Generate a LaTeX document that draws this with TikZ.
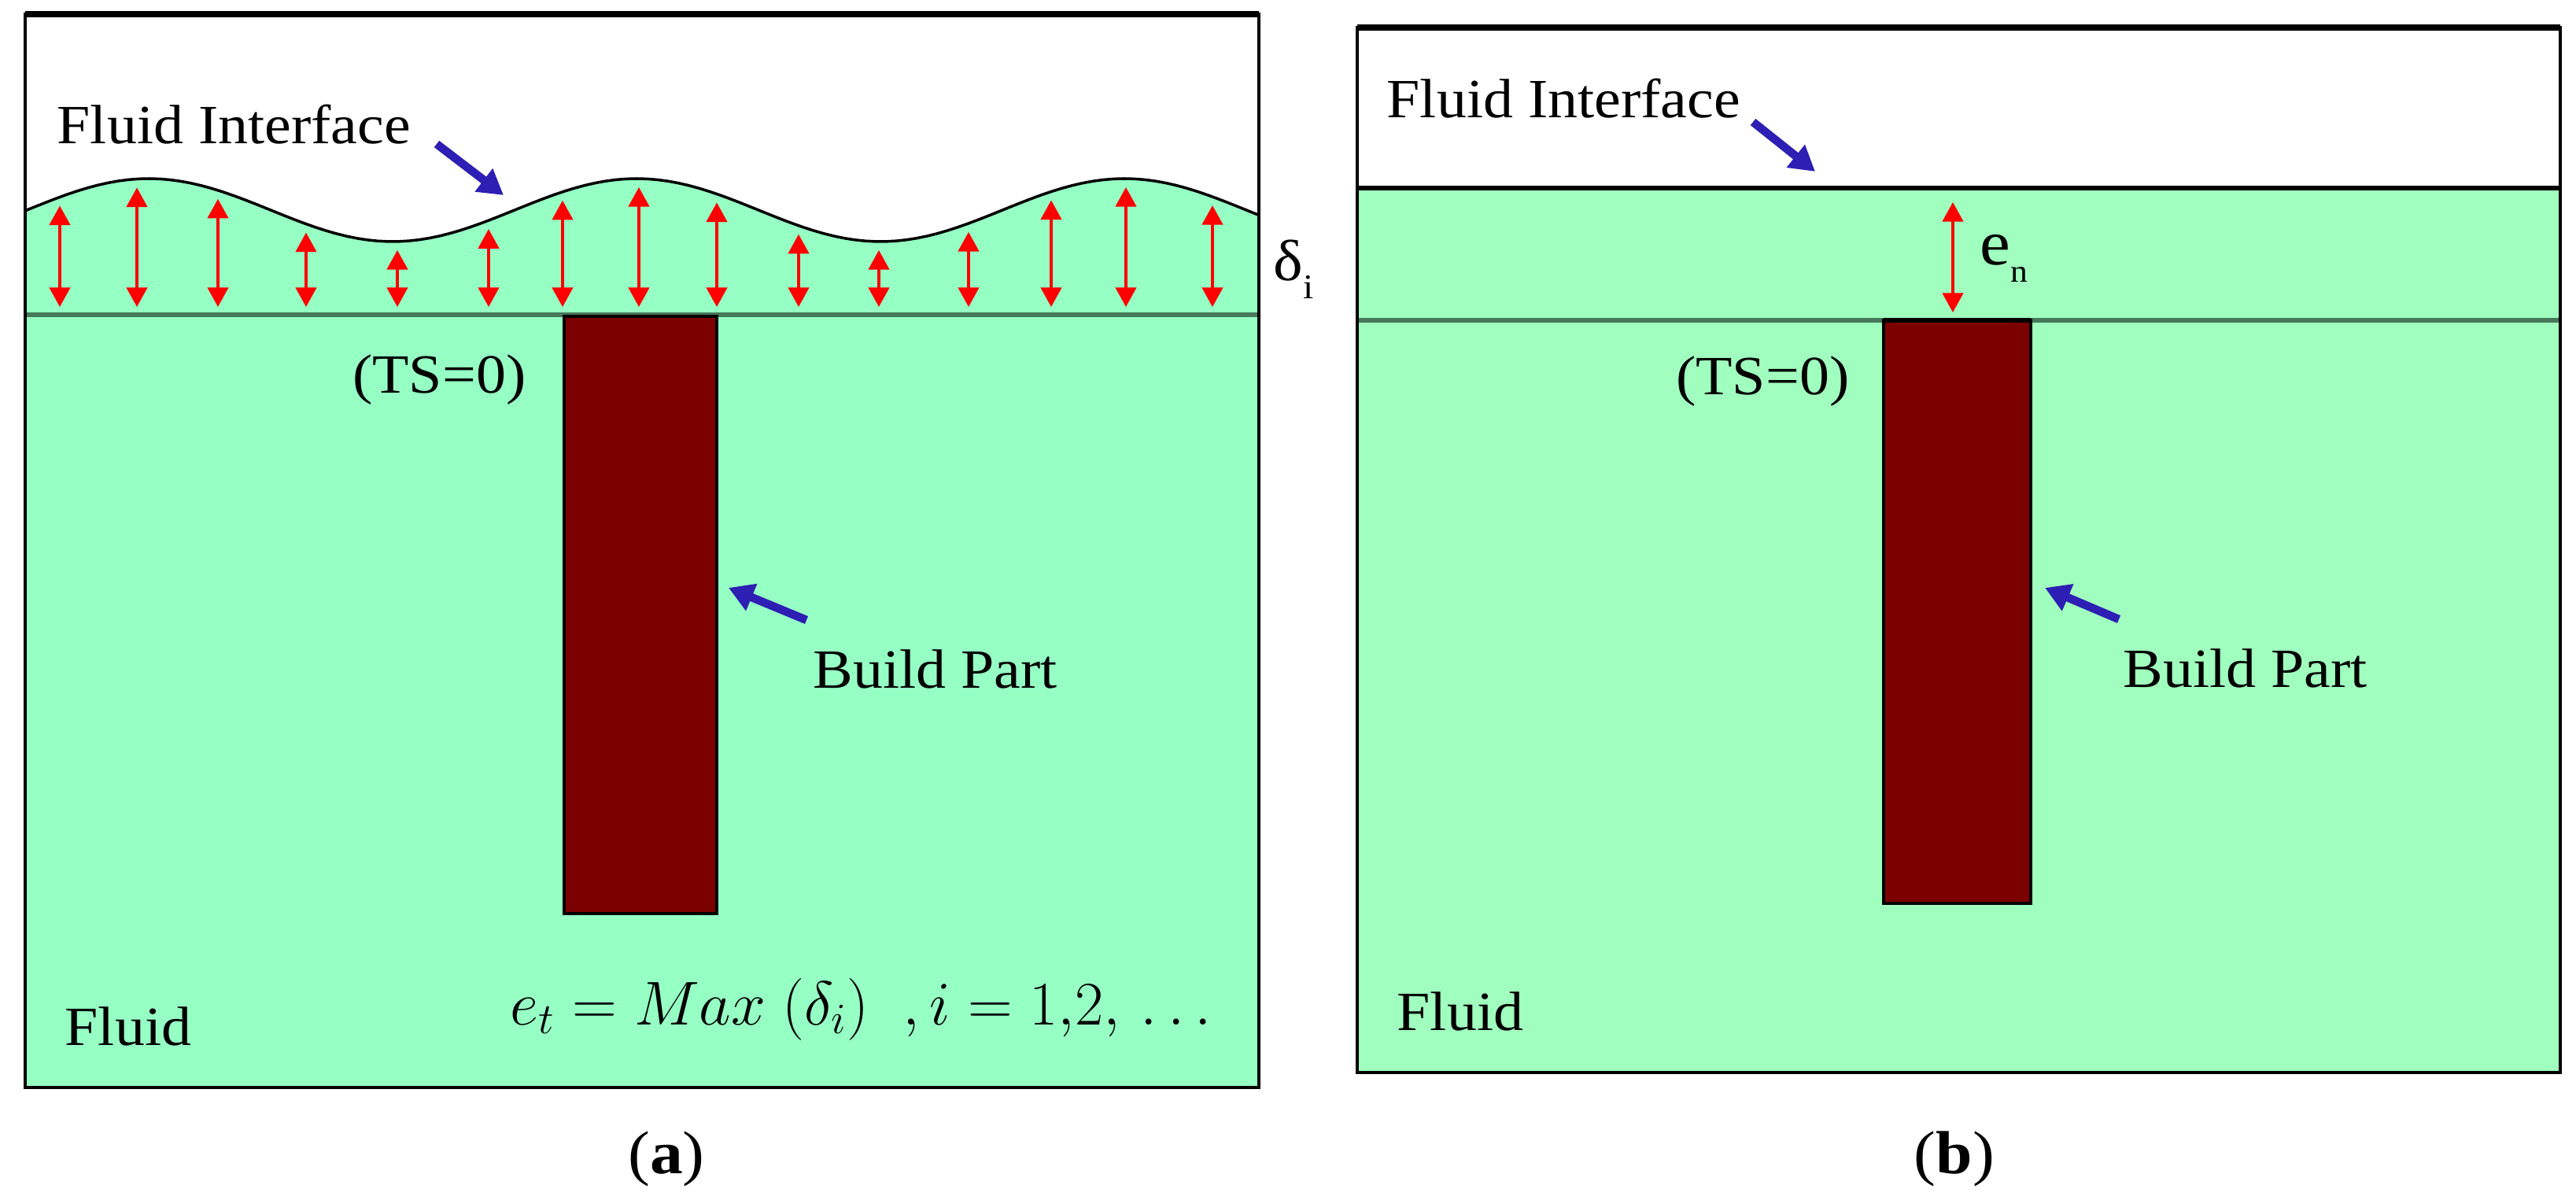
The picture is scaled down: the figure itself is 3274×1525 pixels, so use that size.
\RequirePackage{fix-cm}
\documentclass[tikz,border=0pt]{standalone}
\usepackage{fontspec}
\setmainfont{Liberation Serif}[FakeStretch=1.08]
\usetikzlibrary{arrows.meta}
\definecolor{fluidA}{RGB}{150,255,196}
\definecolor{fluidB}{RGB}{160,255,190}
\definecolor{partred}{RGB}{123,0,0}
\definecolor{pointblue}{RGB}{45,30,180}
\definecolor{layerline}{RGB}{70,120,90}

\begin{document}
\begin{tikzpicture}[x=0.01cm,y=-0.01cm,
  lbl/.style={inner sep=0pt,font=\fontsize{20}{24}\selectfont},
  part/.style={fill=partred,draw=black,line width=1pt},
  frame/.style={draw=black,line width=1.2pt},
  gap arrow/.style={red,line width=0.9pt,{Triangle[length=7pt,width=7.5pt]}-{Triangle[length=7pt,width=7.5pt]}},
  point arrow/.style={pointblue,line width=3pt,-{Triangle[length=9pt,width=10pt]}}]

  \useasboundingbox (0,0) rectangle (3274,1525);
  \fill[white] (0,0) rectangle (3274,1525);

  % (a) wavy interface
  \fill[fluidA] (32,400) rectangle (1600,1382);
  \fill[fluidA] plot[domain=32:1600,samples=120] (\x,{267-40*cos(0.5806*(\x-189))})
    -- (1600,400) -- (32,400) -- cycle;
  \draw[line width=1pt] plot[domain=32:1600,samples=120] (\x,{267-40*cos(0.5806*(\x-189))});
  \draw[layerline,line width=1.5pt] (32,400) -- (1600,400);
  \foreach \i/\x in {1/76,2/174,3/277,4/389,5/505,6/621,7/715,8/812,9/911,10/1015,11/1117,12/1231,13/1336,14/1431,15/1541} {
    \pgfmathsetmacro\ytop{278-40*cos(0.5806*(\x-189))}
    \coordinate (dtop\i) at (\x,\ytop);
    \coordinate (dbot\i) at (\x,390);
    \draw[gap arrow] (dtop\i) -- (dbot\i);
  }
  \draw[part] (717,402) rectangle (911,1161);
  \draw[frame] (32,18) rectangle (1600,1382);
  \draw[line width=2pt] (32,18) -- (1600,18);

  \node[lbl,anchor=base west] (fia) at (72,183) {Fluid Interface};
  \node[lbl,anchor=base east] (tsa) at (669,500) {(TS=0)};
  \node[lbl,anchor=base west] (bpa) at (1033,875) {Build Part};
  \node[lbl,anchor=base west] (fla) at (82,1328) {Fluid};
  \node[inner sep=0pt,anchor=base west,font=\fontsize{22.4}{26}\selectfont] (eqa) at (648,1302)
    {$e_t = Max\ (\delta_i)\ \ ,i = 1{,}2{,}\,\ldots$};
  \node[inner sep=0pt,anchor=base west] (dla) at (1618,357)
    {\fontsize{21}{24}\selectfont δ\raisebox{-6.5pt}{\fontsize{12.5}{14}\selectfont i}};
  \node[inner sep=0pt,anchor=base,font=\fontsize{22}{26}\selectfont] (capa) at (847,1491) {(\textbf{a})};

  \coordinate (fia tail) at (555,183);
  \coordinate (fia tip) at (640,248);
  \coordinate (bpa tail) at (1025,788);
  \coordinate (bpa tip) at (926,747);
  \draw[point arrow] (fia tail) -- (fia tip);
  \draw[point arrow] (bpa tail) -- (bpa tip);

  % (b) flat interface
  \fill[fluidB] (1725,239) rectangle (3254,1363);
  \draw[line width=1.5pt] (1725,239) -- (3254,239);
  \draw[layerline,line width=1.5pt] (1725,407) -- (3254,407);
  \draw[part] (2394,407) rectangle (2581,1148);
  \draw[line width=1.5pt] (2394,407) -- (2581,407);
  \draw[frame] (1725,35) rectangle (3254,1363);
  \draw[line width=2pt] (1725,35) -- (3254,35);

  \node[lbl,anchor=base west] (fib) at (1762,150) {Fluid Interface};
  \node[lbl,anchor=base east] (tsb) at (2351,502) {(TS=0)};
  \node[lbl,anchor=base west] (bpb) at (2698,874) {Build Part};
  \node[lbl,anchor=base west] (flb) at (1775,1310) {Fluid};
  \node[inner sep=0pt,anchor=base west] (enb) at (2516,337)
    {\fontsize{23}{26}\selectfont e\raisebox{-6pt}{\fontsize{11.5}{13}\selectfont n}};
  \node[inner sep=0pt,anchor=base,font=\fontsize{22}{26}\selectfont] (capb) at (2484,1491) {(\textbf{b})};

  \coordinate (en top) at (2482,257);
  \coordinate (en bot) at (2482,397);
  \draw[gap arrow] (en top) -- (en bot);
  \coordinate (fib tail) at (2228,155);
  \coordinate (fib tip) at (2307,218);
  \coordinate (bpb tail) at (2693,787);
  \coordinate (bpb tip) at (2599,747);
  \draw[point arrow] (fib tail) -- (fib tip);
  \draw[point arrow] (bpb tail) -- (bpb tip);
\end{tikzpicture}
\end{document}
